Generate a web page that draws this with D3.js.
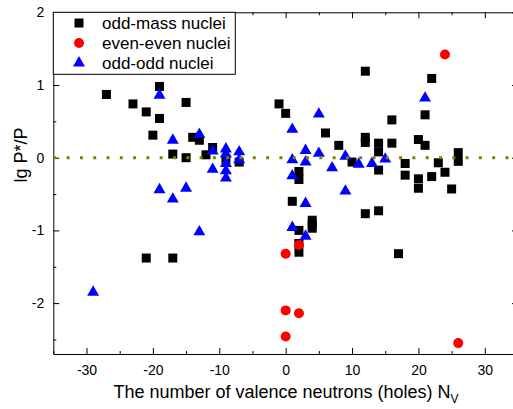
<!DOCTYPE html>
<html>
<head>
<meta charset="utf-8">
<script src="https://cdn.jsdelivr.net/npm/d3@7"></script>
<style>
  body { margin: 0; background: #fff; }
  text { font-family: "Liberation Sans", Arial, sans-serif; }
</style>
</head>
<body>
<div id="chart"></div>
<script>
// odd-mass nuclei [N_V, lg P*/P]
const oddMass = [
  [-27, 0.87], [-23, 0.74], [-21, 0.63], [-19, 0.98], [-19, 0.54], [-20, 0.31],
  [-15, 0.76], [-14, 0.28], [-13, 0.24], [-11, 0.14], [-12, 0.04], [-17, 0.05],
  [-15, 0.0], [-21, -1.38], [-17, -1.38], [-9, -0.02], [-7, -0.06],
  [-1, 0.74], [0, 0.61], [6, 0.34], [8, 0.17], [2, -0.19], [2, -0.3],
  [1, -0.6], [4, -0.86], [4, -0.92], [4, -0.97], [2, -1.0], [2, -1.18], [2, -1.3],
  [12, 1.19], [22, 1.09], [21, 0.59], [16, 0.52], [12, 0.28], [12, 0.21],
  [14, 0.2], [14, 0.08], [16, 0.2], [20, 0.25], [21, 0.17], [26, 0.07],
  [26, -0.05], [10, -0.06], [14, -0.17], [18, -0.08], [18, -0.24], [23, -0.07],
  [24, -0.2], [20, -0.29], [20, -0.42], [22, -0.26], [25, -0.43],
  [12, -0.77], [14, -0.73], [17, -1.32]
];
// even-even nuclei
const evenEven = [
  [24, 1.42], [2, -1.2], [0, -1.32], [0, -2.1], [2, -2.14], [0, -2.46], [26, -2.55]
];
// odd-odd nuclei
const oddOdd = [
  [-29, -1.85], [-19, 0.86], [-17, 0.24], [-13, 0.32], [-11, 0.09], [-11, -0.16],
  [-19, -0.44], [-17, -0.57], [-15, -0.42], [-13, -1.02],
  [-9, 0.12], [-9, 0.05], [-9, -0.08], [-9, -0.18], [-9, -0.28], [-7, 0.08], [-7, -0.03],
  [5, 0.6], [1, 0.39], [1, -0.03], [1, -0.25], [3, 0.1], [3, -0.06], [5, 0.06],
  [7, -0.14], [3, -0.63], [1, -0.96], [3, -1.08], [21, 0.82], [9, 0.02],
  [11, -0.09], [13, -0.08], [15, -0.02], [9, -0.46]
];
const xTicks = [-30, -20, -10, 0, 10, 20, 30];
const yTicks = [-2, -1, 0, 1, 2];
const legendLabels = ["odd-mass nuclei", "even-even nuclei", "odd-odd nuclei"];

const width = 513, height = 409;
const mLeft = 53.3, mRight = 518, mTop = 12.3, mBottom = 354;

const svg = d3.select("#chart").append("svg")
  .attr("width", width)
  .attr("height", height);

const x = d3.scaleLinear().domain([-35, 35]).range([mLeft, mRight]);
const y = d3.scaleLinear().domain([-2.7, 2]).range([mBottom, mTop]);

const xMinor = d3.range(-35, 36, 5).filter(v => !xTicks.includes(v));
const yMinor = d3.range(-2.5, 2, 1);

// axes (ticks point inward)
function drawAxis(axis, pos, major, minor) {
  const g = svg.append("g").attr("transform", pos);
  g.call(axis.tickValues(major).tickSizeOuter(0));
  g.selectAll(".tick line").attr("stroke", "#000");
  g.select(".domain").attr("stroke", "#000");
  const g2 = svg.append("g").attr("transform", pos);
  g2.call(axis.tickValues(minor).tickFormat("").tickSize(-3).tickSizeOuter(0));
  g2.select(".domain").remove();
  return g;
}
const fmt = d => String(d);

const gb = drawAxis(d3.axisBottom(x).tickSize(-6).tickFormat(fmt), `translate(0,${mBottom})`, xTicks, xMinor);
drawAxis(d3.axisTop(x).tickSize(-6).tickFormat(""), `translate(0,${mTop})`, xTicks, xMinor);
const gl = drawAxis(d3.axisLeft(y).tickSize(-6).tickFormat(fmt), `translate(${mLeft},0)`, yTicks, yMinor);
drawAxis(d3.axisRight(y).tickSize(-6).tickFormat(""), `translate(${mRight},0)`, yTicks, yMinor);

gb.selectAll(".tick text").attr("y", 11).attr("font-size", 14)
  .attr("font-family", "Liberation Sans, Arial, sans-serif").attr("fill", "#000");
gl.selectAll(".tick text").attr("x", -9).attr("font-size", 14)
  .attr("font-family", "Liberation Sans, Arial, sans-serif").attr("fill", "#000");

// axis titles
const xt = svg.append("text")
  .attr("x", 286).attr("y", 398)
  .attr("text-anchor", "middle")
  .attr("font-size", 18);
xt.append("tspan").text("The number of valence neutrons (holes) N");
xt.append("tspan").attr("font-size", 12).attr("dy", 5).text("V");

svg.append("text")
  .attr("transform", "translate(27,155) rotate(-90)")
  .attr("text-anchor", "middle")
  .attr("font-size", 18)
  .text("lg P*/P");

// markers
const sq = d3.symbol().type(d3.symbolSquare).size(81);
const tri = d3.symbol().type(d3.symbolTriangle).size(62);

svg.append("g").selectAll("path")
  .data(oddMass).enter().append("path")
  .attr("d", sq)
  .attr("transform", d => `translate(${x(d[0])},${y(d[1])})`)
  .attr("fill", "#000");

svg.append("g").selectAll("circle")
  .data(evenEven).enter().append("circle")
  .attr("cx", d => x(d[0]))
  .attr("cy", d => y(d[1]))
  .attr("r", 5)
  .attr("fill", "#ff0000");

svg.append("g").selectAll("path")
  .data(oddOdd).enter().append("path")
  .attr("d", tri)
  .attr("transform", d => `translate(${x(d[0])},${y(d[1])})`)
  .attr("fill", "#0000ff");

// zero reference line
svg.append("line")
  .attr("x1", mLeft).attr("x2", mRight)
  .attr("y1", y(0)).attr("y2", y(0))
  .attr("stroke", "#808000")
  .attr("stroke-width", 3)
  .attr("stroke-dasharray", "3,10.3");

// legend
const lg = svg.append("g");
lg.append("rect")
  .attr("x", mLeft).attr("y", mTop)
  .attr("width", 182).attr("height", 62)
  .attr("fill", "#fff").attr("stroke", "#000").attr("stroke-width", 1);
const legendMarks = [
  g => g.append("path").attr("d", sq).attr("fill", "#000"),
  g => g.append("circle").attr("r", 5).attr("fill", "#ff0000"),
  g => g.append("path").attr("d", tri).attr("fill", "#0000ff")
];
legendLabels.forEach((label, i) => {
  const row = lg.append("g").attr("transform", `translate(79,${23 + i * 20})`);
  legendMarks[i](row);
  row.append("text")
    .attr("x", 23).attr("dy", "0.35em")
    .attr("font-size", 17)
    .text(label);
});
</script>
</body>
</html>
